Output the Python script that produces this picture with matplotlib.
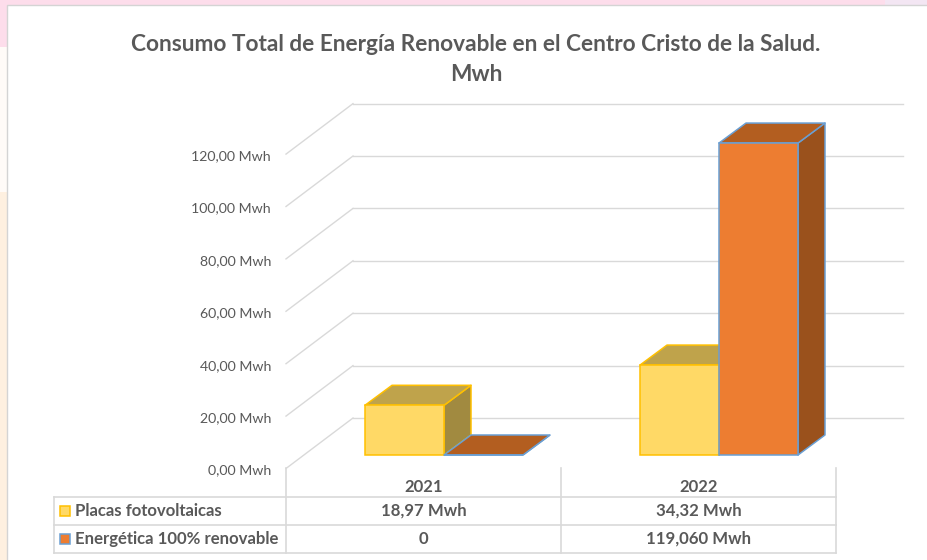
import matplotlib
matplotlib.use("Agg")
import matplotlib.pyplot as plt
from matplotlib.patches import Rectangle, Polygon
from matplotlib.transforms import Affine2D

plt.rcParams['font.family'] = ['Lato', 'DejaVu Sans']

# --- data ---
years = ['2021', '2022']
series_names = ['Placas fotovoltaicas', 'Energética 100% renovable']
placas = [18.97, 34.32]
energetica = [0, 119.06]
placas_labels = ['18,97 Mwh', '34,32 Mwh']
energetica_labels = ['0', '119,060 Mwh']
y_ticks = [0, 20, 40, 60, 80, 100, 120]
y_tick_labels = ['0,00 Mwh', '20,00 Mwh', '40,00 Mwh', '60,00 Mwh', '80,00 Mwh', '100,00 Mwh', '120,00 Mwh']
title = 'Consumo Total de Energía Renovable en el Centro Cristo de la Salud.\nMwh'

W, H = 928, 560
TXT = '#595959'
GRID = '#D9D9D9'
fig = plt.figure(figsize=(W / 100, H / 100), dpi=100, facecolor='white')

# page background and table frame, in pixel layout coordinates
bg = fig.add_axes([0, 0, 1, 1], zorder=0)
bg.set_xlim(0, W); bg.set_ylim(H, 0); bg.axis('off')
bg.add_patch(Rectangle((0, 0), W, 5, color='#FDDDEB', lw=0))
bg.add_patch(Rectangle((0, 0), 8, 47, color='#FDDDEB', lw=0))
bg.add_patch(Rectangle((0, 47), 8, 145, color='#FFFBF8', lw=0))
bg.add_patch(Rectangle((0, 192), 8, H - 192, color='#FEF0E0', lw=0))
bg.add_patch(Rectangle((885, 0), 43, 5, color='#F3E6F3', lw=0))
bg.plot([7.5, 7.5, W], [H, 4.5, 4.5], color='#D4D4D4', lw=1.0)

# main axes: value 0 sits at the base of the bars
Y0_PX, SCALE = 455, 2.62
LEFT, RIGHT = 286, 836
ax = fig.add_axes([LEFT / W, (H - Y0_PX) / H, (RIGHT - LEFT) / W, 120 * SCALE / H], zorder=2)
ax.set_xlim(0, 2); ax.set_ylim(0, 120)
ax.patch.set_alpha(0)
for s in ax.spines.values():
    s.set_visible(False)

def shift(dx, dy):
    return ax.transData + Affine2D().translate(dx, dy)

# walls
front = shift(0, -13.5)
back = shift(67, 37)
for v in y_ticks:
    ax.plot([0, 2], [v, v], color=GRID, lw=1, transform=back, clip_on=False, zorder=1)
    x0, y0 = front.transform((0, v))
    x1, y1 = back.transform((0, v))
    bg.plot([x0, x1], [H - y0, H - y1], color=GRID, lw=1)

ax.set_yticks(y_ticks, y_tick_labels, color=TXT, fontsize=10.2)
ax.tick_params(axis='y', length=0, pad=10.8)
for lab in ax.get_yticklabels():
    lab.set_transform(lab.get_transform() + Affine2D().translate(0, -14.5))

ax.set_xticks([0.5, 1.5], years, color=TXT, fontsize=12, fontweight='bold')
ax.tick_params(axis='x', length=0, pad=17.5)

# 3D bars
BAR_W = 79 / 275
DX = 27 / 275
DY = 20 / SCALE
X_SHIFT = 20.5 / 275

def bar3d(x, v, front_c, top_c, side_c, edge, z):
    kw = dict(edgecolor=edge, lw=1.1, zorder=z, clip_on=False, joinstyle='round')
    x1 = x + BAR_W
    ax.add_patch(Polygon([(x1, 0), (x1 + DX, DY), (x1 + DX, v + DY), (x1, v)], facecolor=side_c, **kw))
    ax.add_patch(Polygon([(x, v), (x + DX, v + DY), (x1 + DX, v + DY), (x1, v)], facecolor=top_c, **kw))
    ax.bar(x, v, width=BAR_W, align='edge', color=front_c, edgecolor=edge, lw=1.1, zorder=z, clip_on=False)

for i in range(len(years)):
    c = i + 0.5 + X_SHIFT
    bar3d(c - BAR_W, placas[i], '#FFD966', '#BFA34B', '#A18A40', '#FFC000', 3 + i)
    bar3d(c, energetica[i], '#ED7D31', '#B35E20', '#9A511C', '#6A9FD3', 3.5 + i)

# data table
for x in (286, 561, 836):
    bg.plot([x, x], [468, 553], color=GRID, lw=1.2)
bg.plot([54, 54], [497, 553], color=GRID, lw=1.2)
for y in (497, 525, 553):
    bg.plot([54, 836], [y, y], color=GRID, lw=1.2)

rows = [(placas_labels, '#FFD966', '#FFC000', 511), (energetica_labels, '#ED7D31', '#6A9FD3', 539)]
for name, (labels, fc, ec, y) in zip(series_names, rows):
    bg.add_patch(Rectangle((60.5, y - 5), 10, 10, facecolor=fc, edgecolor=ec, lw=1.1))
    bg.text(75.5, y, name, color=TXT, fontsize=12.1, fontweight='bold', va='center', ha='left')
    for cx, lab in zip((423.5, 698.5), labels):
        bg.text(cx, y, lab, color=TXT, fontsize=12.1, fontweight='bold', va='center', ha='center')

bg.text(476, 59.5, title, color=TXT, fontsize=16.25, fontweight='bold', ha='center', va='center', linespacing=1.5)

fig.savefig('out.png', dpi=100)
